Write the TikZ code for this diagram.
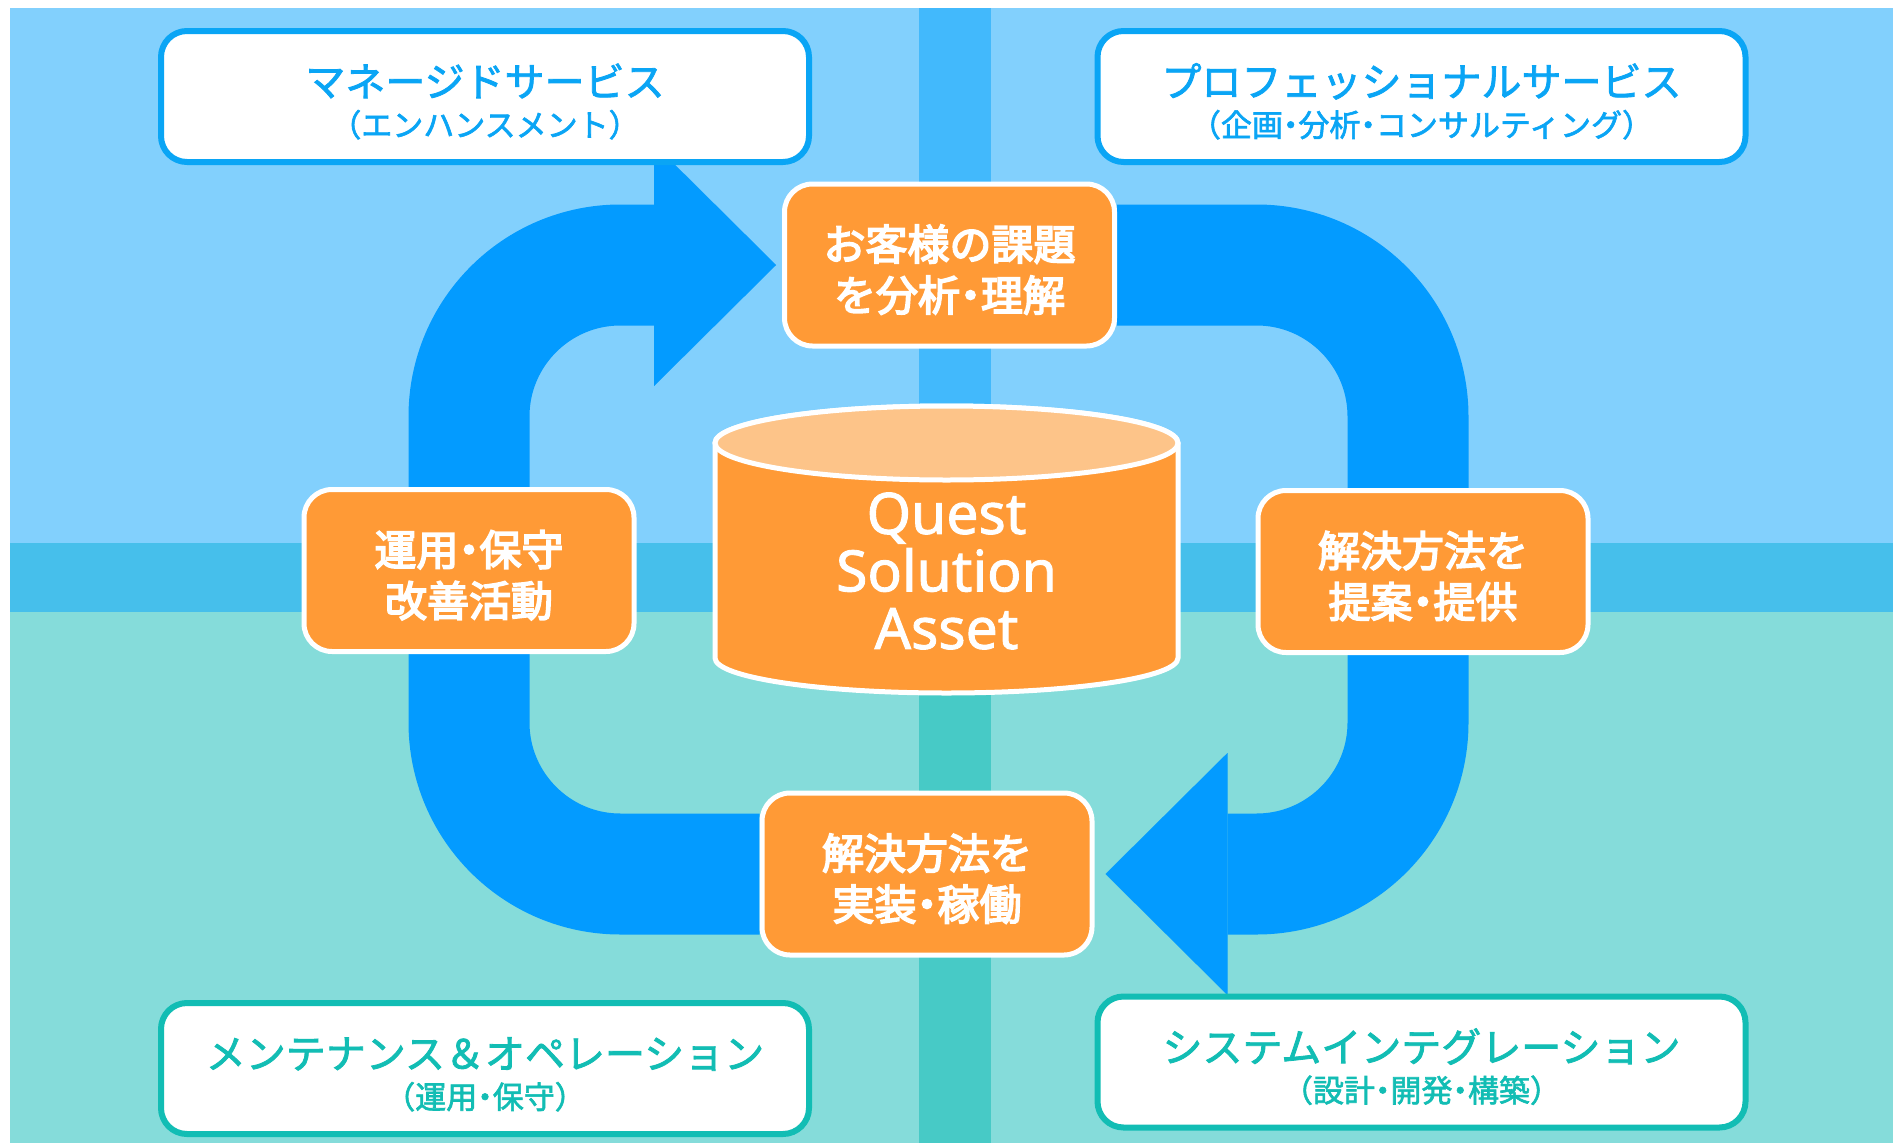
\documentclass[tikz,border=0pt]{standalone}
\usepackage{fontspec}
\setmainfont{Noto Sans}
\newfontfamily\jp[FakeBold=2]{Noto Sans CJK JP}
\newfontfamily\jpmed[FakeBold=4]{Noto Sans CJK JP}
\newfontfamily\qfont[FakeBold=1.6]{Noto Sans}
\usetikzlibrary{arrows.meta,backgrounds}
\definecolor{skyA}{HTML}{82D0FD}
\definecolor{skyB}{HTML}{42B9FC}
\definecolor{bandH}{HTML}{46BFEB}
\definecolor{mintA}{HTML}{85DCDA}
\definecolor{mintB}{HTML}{47CAC6}
\definecolor{flowblue}{HTML}{039BFF}
\definecolor{qorange}{HTML}{FF9A36}
\definecolor{qpeach}{HTML}{FDC489}
\definecolor{svcblue}{HTML}{0AA5F5}
\definecolor{svcteal}{HTML}{12BDB4}
\newcommand{\svcsub}[1]{{\fontsize{31}{31}\selectfont #1}}
\newcommand{\dotsep}{{\addfontfeature{RawFeature=+palt}・}}
\tikzset{
    svc/.style={draw=#1, text=#1, fill=white, line width=6pt, rounded corners=26pt,
        minimum width=648pt, minimum height=131pt, align=center,
        font=\jp\fontsize{40}{40}\selectfont, text height=81pt, text depth=1pt},
    task/.style={draw=white, fill=qorange, text=white, line width=5pt, rounded corners=28pt,
        minimum width=330pt, minimum height=162pt, align=center,
        font=\jpmed\fontsize{42}{51}\selectfont, text height=93pt, text depth=1pt},
    flow/.style={draw=flowblue, line width=121pt, rounded corners=151.5pt,
        -{Triangle[length=122pt,width=242pt,line width=0.01pt]}},
}

\begin{document}
\begin{tikzpicture}[x=1pt,y=-1pt]
\useasboundingbox (0,0) rectangle (1893,1143);

% service boxes
\node[svc=svcblue] (managed) at (485,96.5) {マネージドサービス\\\svcsub{（エンハンスメント）}};
\node[svc=svcblue] (prof) at (1421.5,96.5) {プロフェッショナルサービス\\\svcsub{（企画\dotsep 分析\dotsep コンサルティング）}};
\node[svc=svcteal] (maint) at (485,1068.5) {メンテナンス＆オペレーション\\\svcsub{（運用\dotsep 保守）}};
\node[svc=svcteal] (sysint) at (1421.5,1062) {システムインテグレーション\\\svcsub{（設計\dotsep 開発\dotsep 構築）}};

% asset cylinder
\filldraw[fill=qorange, draw=white, line width=5pt] (715,443) -- (715,658)
    arc[start angle=180, end angle=0, x radius=231.5, y radius=35] -- (1178,443)
    arc[start angle=360, end angle=180, x radius=231.5, y radius=37] -- cycle;
\filldraw[fill=qpeach, draw=white, line width=5pt] (946.5,443) ellipse [x radius=231.5, y radius=37];
\node[text=white, align=center, font=\qfont\fontsize{57}{57.5}\selectfont] (asset) at (946.5,571) {Quest\\Solution\\Asset};

% cycle steps
\node[task] (anal) at (949.5,265) {お客様の課題\\を分析\dotsep 理解};
\node[task] (ops) at (469,570.5) {運用\dotsep 保守\\改善活動};
\node[task] (offer) at (1423,571.5) {解決方法を\\提案\dotsep 提供};
\node[task] (impl) at (927,874) {解決方法を\\実装\dotsep 稼働};
\coordinate (rbend) at (1408,570);

\begin{scope}[on background layer]
\fill[white] (0,0) rectangle (1893,1143);
\fill[skyA] (10,8) rectangle (1893,543);
\fill[mintA] (10,612) rectangle (1893,1143);
\fill[bandH] (10,543) rectangle (1893,612);
\fill[skyB] (919,8) rectangle (991,543);
\fill[mintB] (919,612) rectangle (991,1143);
\draw[flow, shorten >=6pt] (impl.west) -| (ops.center) |- (anal.west);
\draw[flow, shorten >=11pt] (anal.east) -| (rbend) |- (impl.east);
\end{scope}
\end{tikzpicture}
\end{document}
